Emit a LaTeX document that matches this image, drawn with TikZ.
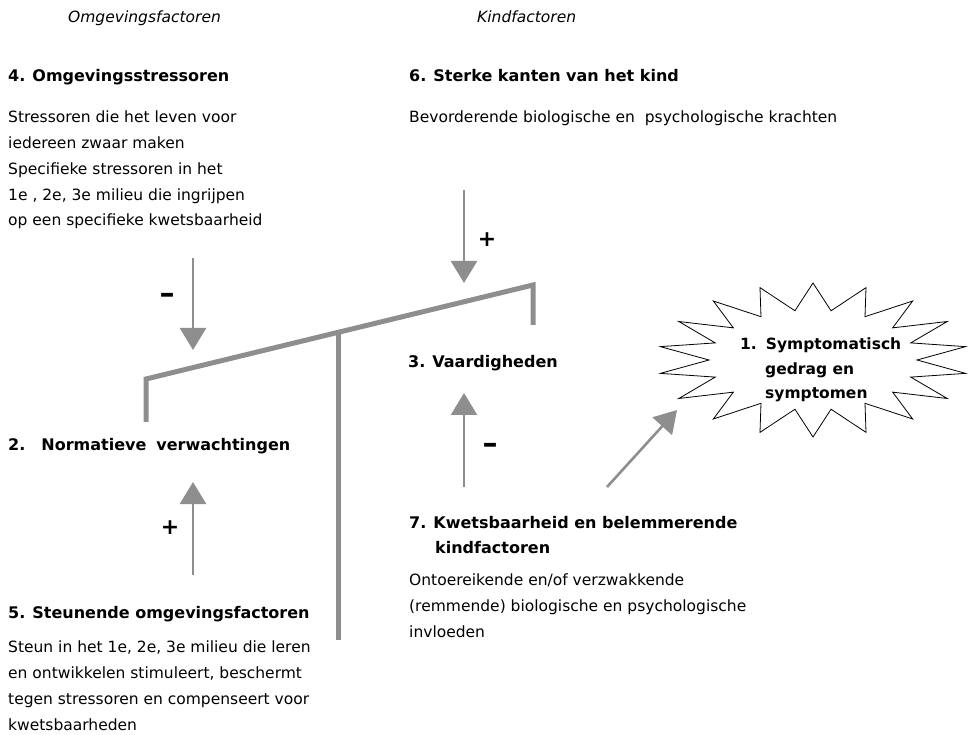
\documentclass[tikz,border=0pt]{standalone}
\usepackage{fontspec}
\setmainfont{DejaVu Sans}
\usetikzlibrary{arrows.meta}
\definecolor{beamgrey}{HTML}{8E8E8E}
\newcommand{\headsize}{\fontsize{16}{25}\selectfont}
\newcommand{\bodysize}{\fontsize{15.5}{25.7}\selectfont}

\begin{document}
\begin{tikzpicture}[x=1pt,y=-1pt,
    head node/.style={anchor=base west,inner sep=0pt,align=left,font=\headsize\bfseries},
    block node/.style={anchor=north west,inner sep=0pt,align=left,font=\headsize\bfseries},
    body node/.style={anchor=north west,inner sep=0pt,align=left,font=\bodysize},
    side node/.style={anchor=base west,inner sep=0pt,font=\bodysize\itshape},
    sign node/.style={inner sep=0pt,font=\fontsize{22}{22}\selectfont\bfseries},
    dash node/.style={inner sep=0pt,font=\fontsize{30}{30}\selectfont\bfseries},
    force/.style={draw=beamgrey,line width=2.6pt,-{Triangle[length=22pt,width=26pt]}},
    beam/.style={draw=beamgrey,line width=5pt}]
    \useasboundingbox (0,0) rectangle (970,735);

    % column titles
    \node[side node] (omg) at (68,23) {Omgevingsfactoren};
    \node[side node] (kind) at (477,23) {Kindfactoren};

    % text blocks
    \node[head node] (4) at (8,82) {4.\hspace{7pt}Omgevingsstressoren};
    \node[body node] (4b) at (8,111) {Stressoren die het leven voor\\iedereen zwaar maken\\Specifieke stressoren in het\\1e , 2e, 3e milieu die ingrijpen\\op een specifieke kwetsbaarheid};
    \node[head node] (6) at (409,82) {6.\hspace{7pt}Sterke kanten van het kind};
    \node[side node,font=\bodysize] (6b) at (409,123) {Bevorderende biologische en \ psychologische krachten};
    \node[head node] (3) at (408,368) {3.\hspace{7pt}Vaardigheden};
    \node[head node] (2) at (8,450) {2.\hspace{16pt}Normatieve\hspace{10pt}verwachtingen};
    \node[head node] (5) at (8,618) {5.\hspace{7pt}Steunende omgevingsfactoren};
    \node[body node] (5b) at (8,641) {Steun in het 1e, 2e, 3e milieu die leren\\en ontwikkelen stimuleert, beschermt\\tegen stressoren en compenseert voor\\kwetsbaarheden};
    \node[block node] (7) at (409,516) {7.\hspace{7pt}Kwetsbaarheid en belemmerende\\\hspace*{26pt}kindfactoren};
    \node[body node] (7b) at (409,574) {Ontoereikende en/of verzwakkende\\(remmende) biologische en psychologische\\invloeden};

    % symptoms burst
    \coordinate (burst) at (813,360);
    \begin{scope}[shift={(burst)}]
      \draw[line width=0.8pt] (10:155 and 77)
        \foreach \a in {30,50,...,370} { -- (\a-10:104 and 50) -- (\a:155 and 77) } -- cycle;
    \end{scope}
    \node[block node,font=\fontsize{15.5}{24.5}\selectfont\bfseries] (1) at (740,338) {1.\hspace{9pt}Symptomatisch\\\hspace*{25pt}gedrag en\\\hspace*{25pt}symptomen};

    % balance
    \coordinate (bl) at (146,422);
    \coordinate (bl top) at (146,379);
    \coordinate (br top) at (533,285);
    \coordinate (br) at (533,325);
    \coordinate (post top) at (338,333);
    \coordinate (post) at (338,640);
    \draw[beam] (bl) -- (bl top) -- (br top) -- (br);
    \draw[beam] (post top) -- (post);

    % influences
    \coordinate (s4) at (193,258);
    \coordinate (t4) at (193,350);
    \coordinate (s6) at (464,190);
    \coordinate (t6) at (464,283);
    \coordinate (s5) at (193,575);
    \coordinate (t5) at (193,482);
    \coordinate (s7) at (464,487);
    \coordinate (t7) at (464,393);
    \coordinate (s1) at (607,487);
    \coordinate (t1) at (677,410);
    \path (s4) edge[force] (t4)
          (s6) edge[force] (t6)
          (s5) edge[force] (t5)
          (s7) edge[force] (t7)
          (s1) edge[force] (t1);

    \node[dash node] (min4) at (167,298) {–};
    \node[sign node] (plus6) at (487,240) {+};
    \node[sign node] (plus5) at (170,528) {+};
    \node[dash node] (min7) at (490,448) {–};
  \end{tikzpicture}
\end{document}
